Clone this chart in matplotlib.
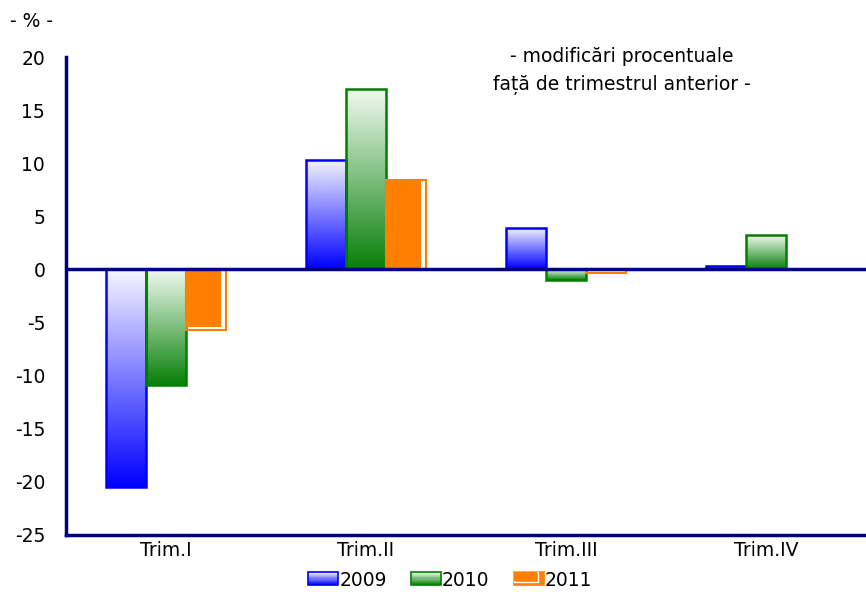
import numpy as np
import matplotlib.pyplot as plt
from matplotlib.patches import Rectangle
from matplotlib.colors import LinearSegmentedColormap, to_rgb
from matplotlib.legend_handler import HandlerBase

plt.rcParams['font.family'] = ['DejaVu Sans']
plt.rcParams['axes.unicode_minus'] = False

quarters = ["Trim.I", "Trim.II", "Trim.III", "Trim.IV"]
years = ["2009", "2010", "2011"]
v2009 = [-20.5, 10.3, 3.9, 0.3]
v2010 = [-10.9, 17.0, -1.0, 3.2]
v2011 = [-5.7, 8.4, -0.3, np.nan]

NAVY = "#000080"
BLUE_TOP, BLUE_BOT, BLUE_EDGE = "#f6f6ff", "#0000ff", "#0000ff"
GREEN_TOP, GREEN_BOT, GREEN_EDGE = "#f2faf2", "#088008", "#008000"
ORANGE = "#ff8000"

fig = plt.figure(figsize=(8.66, 5.92), dpi=100)
ax = fig.add_axes([0.0762, 0.0963, 0.9238, 0.8074])

x = np.arange(len(quarters))
w = 0.2


def gradient_bars(xpos, vals, top, bot, edge):
    cmap = LinearSegmentedColormap.from_list("g", [bot, top])
    grad = np.linspace(0, 1, 256).reshape(-1, 1)
    bars = ax.bar(xpos, vals, w, facecolor="none", edgecolor=edge,
                  linewidth=1.8, zorder=3)
    for b in bars:
        x0, y0 = b.get_x(), b.get_y()
        bw, bh = b.get_width(), b.get_height()
        if np.isnan(bh):
            continue
        ylo, yhi = min(y0, y0 + bh), max(y0, y0 + bh)
        ax.imshow(grad, extent=(x0, x0 + bw, ylo, yhi), origin="lower",
                  cmap=cmap, aspect="auto", zorder=2, interpolation="bilinear")
    return bars


gradient_bars(x - w, v2009, BLUE_TOP, BLUE_BOT, BLUE_EDGE)
gradient_bars(x, v2010, GREEN_TOP, GREEN_BOT, GREEN_EDGE)

# 2011: orange fill with an offset outline
ax.bar(x + w, v2011, w, facecolor="none", edgecolor=ORANGE, linewidth=1.5,
       zorder=3)
fill_vals = [v + 0.3 if v < 0 else v for v in v2011]
ax.bar(x + w - 0.0125, fill_vals, w - 0.025, facecolor=ORANGE,
       edgecolor="none", zorder=3)

ax.axhline(0, color=NAVY, linewidth=2.5, zorder=4)

ax.set_xlim(-0.5, 3.5)
ax.set_ylim(-25, 20)
ax.set_yticks(range(-25, 21, 5))
ax.set_xticks(x)
ax.set_xticklabels(quarters)
ax.tick_params(length=0, labelsize=13.5)
ax.tick_params(axis="y", pad=15)
ax.tick_params(axis="x", pad=4)

for s in ["top", "right"]:
    ax.spines[s].set_visible(False)
for s in ["left", "bottom"]:
    ax.spines[s].set_color(NAVY)
    ax.spines[s].set_linewidth(2.5)

fig.text(0.012, 0.963, "- % -", fontsize=13.5, ha="left", va="center")
ax.text(0.695, 1.02, "- modificări procentuale\nfață de trimestrul anterior -",
        transform=ax.transAxes, ha="center", va="top", fontsize=13.5,
        linespacing=1.6)


class GradHandler(HandlerBase):
    def __init__(self, top, bot, edge):
        super().__init__()
        self.top, self.bot, self.edge = to_rgb(top), to_rgb(bot), edge

    def create_artists(self, legend, orig, xd, yd, width, height, fontsize, trans):
        arts = []
        n = 12
        for i in range(n):
            t = i / (n - 1)
            c = [self.top[k] * (1 - t) + self.bot[k] * t for k in range(3)]
            arts.append(Rectangle((xd, yd + height * (1 - (i + 1) / n)), width,
                                  height / n, facecolor=c, edgecolor="none",
                                  transform=trans))
        arts.append(Rectangle((xd, yd), width, height, facecolor="none",
                              edgecolor=self.edge, lw=1.2, transform=trans))
        return arts


class OrangeHandler(HandlerBase):
    def create_artists(self, legend, orig, xd, yd, width, height, fontsize, trans):
        return [Rectangle((xd, yd), width, height, facecolor=ORANGE,
                          edgecolor=ORANGE, lw=1.2, transform=trans),
                Rectangle((xd, yd + height * 0.25), width * 0.8, height * 0.75,
                          facecolor="none", edgecolor="white", lw=1.0,
                          transform=trans),
                Rectangle((xd, yd + height * 0.3), width * 0.78, height * 0.7,
                          facecolor=ORANGE, edgecolor="none", transform=trans)]


h1, h2, h3 = Rectangle((0, 0), 1, 1), Rectangle((0, 0), 1, 1), Rectangle((0, 0), 1, 1)
fig.legend([h1, h2, h3], years, loc="center", bbox_to_anchor=(0.52, 0.02),
           ncol=3, frameon=False, fontsize=13.5, handlelength=1.6,
           handleheight=0.75, handletextpad=0.05, columnspacing=1.3,
           handler_map={h1: GradHandler(BLUE_TOP, BLUE_BOT, BLUE_EDGE),
                        h2: GradHandler(GREEN_TOP, GREEN_BOT, GREEN_EDGE),
                        h3: OrangeHandler()})

fig.savefig("out.png", dpi=100)
